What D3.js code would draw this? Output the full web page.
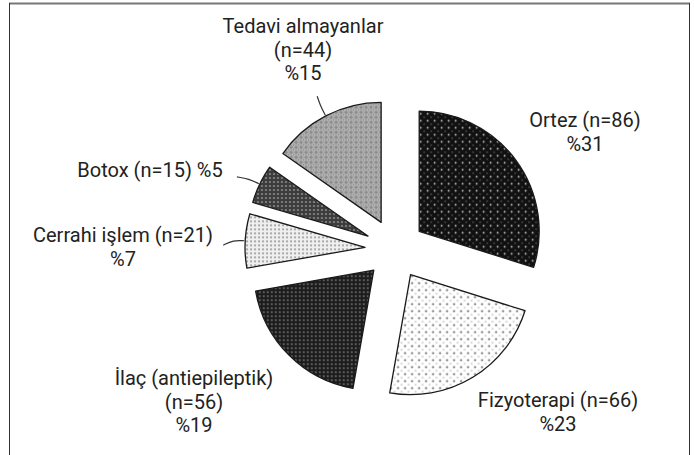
<!DOCTYPE html>
<html><head><meta charset="utf-8">
<script src="https://cdn.jsdelivr.net/npm/d3@7"></script>
<style>
body{margin:0;background:#fff}
svg{display:block}
text{font-family:Roboto,"Open Sans",sans-serif;font-size:20px;fill:#222}
</style>
</head><body>
<script>
// ---- data ----
const categories = ["Ortez", "Fizyoterapi", "İlaç (antiepileptik)", "Cerrahi işlem", "Botox", "Tedavi almayanlar"];
const counts = [86, 66, 56, 21, 15, 44];
const percentLabels = ["%31", "%23", "%19", "%7", "%5", "%15"];

// ---- layout ----
const W = 694, H = 455;
const cx = 395, cy = 249, R = 120, explode = 30;
// label anchor (center x, first baseline y) and line-break style
const labelLayout = [
  {x: 585, y: 127, style: "nameN|pct"},
  {x: 558, y: 407, style: "nameN|pct"},
  {x: 194, y: 385, style: "name|n|pct"},
  {x: 123, y: 242, style: "nameN|pct"},
  {x: 150, y: 177, style: "one"},
  {x: 303, y: 33,  style: "name|n|pct"}
];
const lineH = 23.5;
// leader hooks (relative bend) for small slices, null = no leader
const leaderHook = [null, null, null, [-10, 5], [-12, -2], [-3, -9]];

const patterns = [
  {id: "pOrtez", size: 7, bg: "#111", dots: [[1.5, 1.5, 0.9, "#ccc"], [5, 5, 0.7, "#777"]]},
  {id: "pFizyo", size: 7, bg: "#fff", dots: [[1.5, 1.5, 0.9, "#444"], [5, 5, 0.8, "#aaa"]]},
  {id: "pIlac",  size: 4, bg: "#1c1c1c", dots: [[2, 2, 0.9, "#777"]]},
  {id: "pCerr",  size: 4, bg: "#f0f0f0", dots: [[2, 2, 1.1, "#9a9a9a"]]},
  {id: "pBotox", size: 4, bg: "#3c3c3c", dots: [[2, 2, 1.1, "#8a8a8a"]]},
  {id: "pTedavi",size: 5, bg: "#8c8c8c", dots: [[2.5, 2.5, 1.6, "#d8d8d8"]]}
];

const svg = d3.select("body").append("svg").attr("width", W).attr("height", H);

// frame
svg.append("line").attr("x1", 9).attr("x2", 690).attr("y1", 3.5).attr("y2", 3.5)
  .attr("stroke", "#777").attr("stroke-width", 2);
svg.append("line").attr("x1", 9.5).attr("x2", 9.5).attr("y1", 3).attr("y2", H)
  .attr("stroke", "#333").attr("stroke-width", 1);
svg.append("line").attr("x1", 689.5).attr("x2", 689.5).attr("y1", 3).attr("y2", H)
  .attr("stroke", "#333").attr("stroke-width", 1);

// patterns
const defs = svg.append("defs");
patterns.forEach(p => {
  const pat = defs.append("pattern").attr("id", p.id).attr("patternUnits", "userSpaceOnUse")
    .attr("width", p.size).attr("height", p.size);
  pat.append("rect").attr("width", p.size).attr("height", p.size).attr("fill", p.bg);
  p.dots.forEach(d => {
    if (p.id === "pTedavi") {
      pat.append("circle").attr("cx", d[0]).attr("cy", d[1]).attr("r", d[2])
        .attr("fill", "none").attr("stroke", d[3]).attr("stroke-width", 0.9);
    } else {
      pat.append("circle").attr("cx", d[0]).attr("cy", d[1]).attr("r", d[2]).attr("fill", d[3]);
    }
  });
});

const pie = d3.pie().sort(null).value(d => d)(counts);
const arc = d3.arc().innerRadius(0).outerRadius(R);
const polar = (r, a) => [Math.sin(a) * r, -Math.cos(a) * r];

const g = svg.append("g").attr("transform", `translate(${cx},${cy})`);

pie.forEach((d, i) => {
  const mid = (d.startAngle + d.endAngle) / 2;
  const [ox, oy] = polar(explode, mid);
  const sg = g.append("g").attr("transform", `translate(${ox},${oy})`);
  sg.append("path").attr("d", arc(d))
    .attr("fill", `url(#${patterns[i].id})`)
    .attr("stroke", "#1a1a1a").attr("stroke-width", 1.3).attr("stroke-linejoin", "round");
  if (leaderHook[i]) {
    const p0 = polar(R + 1, mid), p1 = polar(R + 12, mid);
    const p2 = [p1[0] + leaderHook[i][0], p1[1] + leaderHook[i][1]];
    sg.append("path")
      .attr("d", d3.line().curve(d3.curveBasis)([p0, p0, p1, p2, p2]))
      .attr("fill", "none").attr("stroke", "#333").attr("stroke-width", 1.2);
  }
});

// labels
categories.forEach((c, i) => {
  const L = labelLayout[i];
  let lines;
  const n = `(n=${counts[i]})`;
  if (L.style === "nameN|pct") lines = [`${c} ${n}`, percentLabels[i]];
  else if (L.style === "name|n|pct") lines = [c, n, percentLabels[i]];
  else lines = [`${c} ${n} ${percentLabels[i]}`];
  const t = svg.append("text").attr("text-anchor", "middle");
  lines.forEach((ln, k) => {
    t.append("tspan").attr("x", L.x).attr("y", L.y + k * lineH).text(ln);
  });
});
</script>
</body></html>
